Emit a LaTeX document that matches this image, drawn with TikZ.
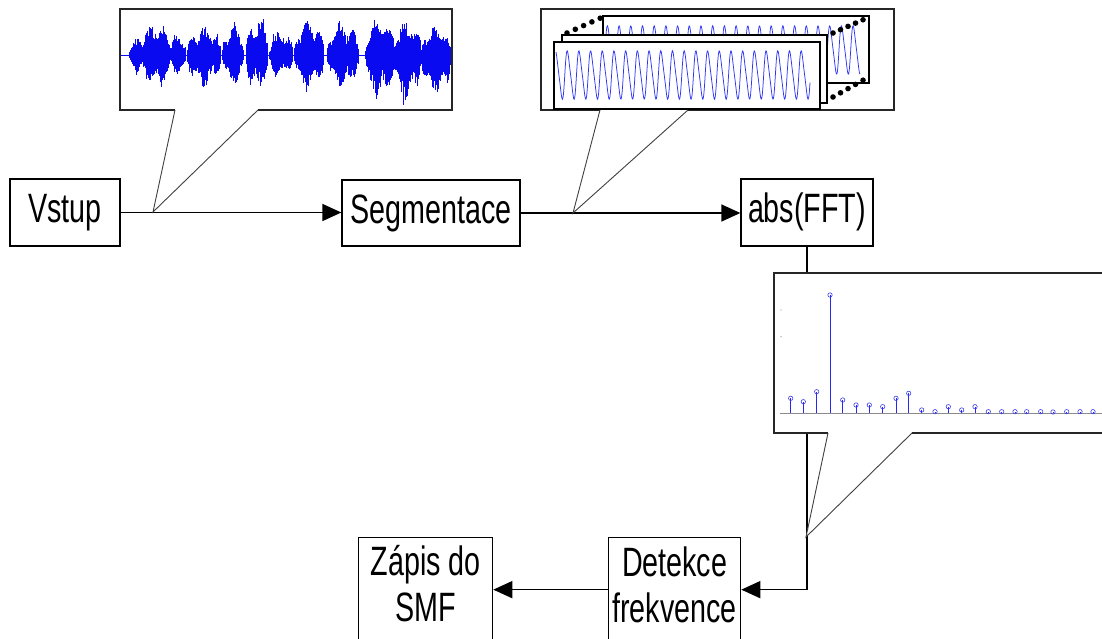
\documentclass[tikz,border=0pt]{standalone}
\usepackage{fontspec}
\newfontfamily\lblfont{Liberation Sans}[FakeStretch=0.70]
\usetikzlibrary{arrows.meta}

\tikzset{
  blk/.style={draw=black, line width=1.3pt, fill=white, inner sep=0pt,
    font=\lblfont\fontsize{41}{46}\selectfont, text height=29pt, text depth=8.6pt},
  lbl/.style={inner sep=0pt, align=center, font=\lblfont\fontsize{41}{46}\selectfont},
  conn/.style={draw=black, line width=1.5pt, -{Triangle[length=19pt,width=17pt]}},
  callbox/.style={draw=black!85, line width=1.4pt, line join=miter},
  pointer/.style={draw=black!75, line width=0.9pt},
  wave/.style={draw={rgb,255:red,10;green,10;blue,240}, line width=0.8pt},
  sinec/.style={draw={rgb,255:red,45;green,55;blue,245}, line width=0.75pt},
  frame/.style={draw=black, line width=1.2pt, fill=white},
  dotm/.style={fill=black},
  stem/.style={draw={rgb,255:red,40;green,40;blue,240}, line width=0.8pt},
  mk/.style={draw={rgb,255:red,60;green,60;blue,240}, line width=0.6pt},
}

\begin{document}
\begin{tikzpicture}[x=1pt,y=-1pt]
\useasboundingbox (0,0) rectangle (1102,639);
\clip (0,0) rectangle (1102,639);

% ---------- processing blocks ----------
\node[blk, minimum width=110pt, minimum height=67pt] (vst) at (65,212.5) {Vstup};
\node[blk, minimum width=178pt, minimum height=66pt] (seg) at (431,213) {Segmentace};
\node[blk, minimum width=132pt, minimum height=67pt] (fft) at (807,212.5) {abs(FFT)};
\node[blk, minimum width=132pt, minimum height=104pt, anchor=north west] (det) at (608,537) {};
\node[blk, minimum width=134pt, minimum height=104pt, anchor=north west] (zap) at (358,537) {};
\node[lbl, anchor=north] (detL) at (det.north |- 0,547) {Detekce\\frekvence};
\node[lbl, anchor=north] (zapL) at (zap.north |- 0,545) {Zápis do\\SMF};

% ---------- connectors ----------
\draw[conn] (vst.east) -- (seg.west |- vst.east);
\draw[conn] (seg.east) -- (fft.west |- seg.east);
\draw[conn] (fft.south) |- (det.east);
\draw[conn] (det.west) -- (zap.east |- det.west);

% ---------- callout: input signal ----------
\coordinate (tipA) at (153,212);
\fill[white] (120,9) -- (452,9) -- (452,110) -- (258,110) -- (tipA) -- (175,110) -- (120,110) -- cycle;
\draw[callbox] (175,110) -- (120,110) -- (120,9) -- (452,9) -- (452,110) -- (258,110);
\draw[pointer] (175,110) -- (tipA) -- (258,110);
% speech waveform: one burst per syllable (centre / half width / upper / lower amplitude)
\draw[wave] (121,55) -- (450,55);
\pgfmathsetseed{5}
\foreach \c/\w/\au/\ad in {136/7/20/20, 156/15/38/36, 178/8/24/24, 204/17/33/36,
                           233/11/34/32, 257/11/42/40, 281/12/28/26, 309/15/38/38,
                           343/16/37/37, 380/15/42/50, 407/14/40/52, 436/15/34/46}{
  \pgfmathtruncatemacro\wvn{2*\w/0.5}
  \foreach \i in {0,...,\wvn}{
    \pgfmathsetmacro\wvx{\c-\w+0.5*\i}
    \pgfmathsetmacro\wvs{(\wvx-\c)/\w}
    \pgfmathsetmacro\wvenv{sqrt(max(0,1-\wvs*\wvs))*(0.78+0.22*sin((\wvx-\c)*25+\c*11))}
    \pgfmathsetmacro\wvup{\au*\wvenv*(0.5+0.42*rnd+0.25*rnd^10)}
    \pgfmathsetmacro\wvdn{\ad*\wvenv*(0.5+0.42*rnd+0.25*rnd^10)}
    \draw[wave] (\wvx,55-\wvup) -- (\wvx,55+\wvdn);
  }
}

% ---------- callout: segmented frames ----------
\coordinate (tipB) at (573,213);
\fill[white] (541,9) -- (894,9) -- (894,110) -- (688,110) -- (tipB) -- (600,110) -- (541,110) -- cycle;
\draw[callbox] (600,110) -- (541,110) -- (541,9) -- (894,9) -- (894,110) -- (688,110);
\draw[pointer] (600,110) -- (tipB) -- (688,110);
% back frame
\draw[frame] (603,16) rectangle (869,83);
\begin{scope}
  \clip (603,16) rectangle (869,83);
  \draw[sinec] plot[domain=0:255, samples=520] ({605+\x},{50-27*(0.85*sin(\x*30.77)+0.15*sin(\x*61.54))});
\end{scope}
% middle frame
\draw[frame] (562,35) rectangle (827,103);
\begin{scope}
  \clip (562,35) rectangle (827,103);
  \draw[sinec] plot[domain=0:254, samples=520] ({564+\x},{69-27*(0.85*sin(\x*30.77+60)+0.15*sin(\x*61.54+120))});
\end{scope}
% front frame
\draw[frame] (554,42) rectangle (820,109);
\draw[sinec] plot[domain=0:254, samples=520] ({556+\x},{75-27*(0.85*sin(\x*30.77+90)+0.15*sin(\x*61.54+180))});
% continuation dots
\foreach \k in {0,...,4}{
  \fill[dotm] ({567+8.3*\k},{33-3.7*\k}) circle (2.8);
  \fill[dotm] ({833+7.5*\k},{33-3.3*\k}) circle (2.8);
  \fill[dotm] ({833+7.5*\k},{97-4.2*\k}) circle (2.8);
}

% ---------- callout: magnitude spectrum ----------
\coordinate (tipC) at (806,537);
\fill[white] (774,273) -- (1110,273) -- (1110,433) -- (912,433) -- (tipC) -- (828,433) -- (774,433) -- cycle;
\draw[callbox] (828,433) -- (774,433) -- (774,273) -- (1110,273);
\draw[callbox] (1110,433) -- (912,433);
\draw[pointer] (828,433) -- (tipC) -- (912,433);
% spectrum stems
\draw[black!45, line width=1pt] (780,413.3) -- (1102,413.3);
\fill[black!40] (781,310) circle (0.7);
\fill[black!40] (781,336.7) circle (0.7);
\foreach \x/\h in {790.7/398.3, 803.3/401.7, 816.7/391.7, 830/295, 842.7/400,
                   856/405, 869.3/405, 882.7/406.7, 896/398.3, 908.7/393.3,
                   921.7/410, 935/411.7, 948.3/406.7, 961.7/410, 975/406.7,
                   988.3/411.7, 1001.7/411.7, 1015/411.7, 1026.7/411.7, 1040.7/411.7,
                   1053/412, 1066.7/411.7, 1080/411.7, 1093/411.7}{
  \draw[stem] (\x,413.3) -- (\x,\h);
  \draw[mk] (\x,\h) circle (2.2);
}
\end{tikzpicture}
\end{document}
